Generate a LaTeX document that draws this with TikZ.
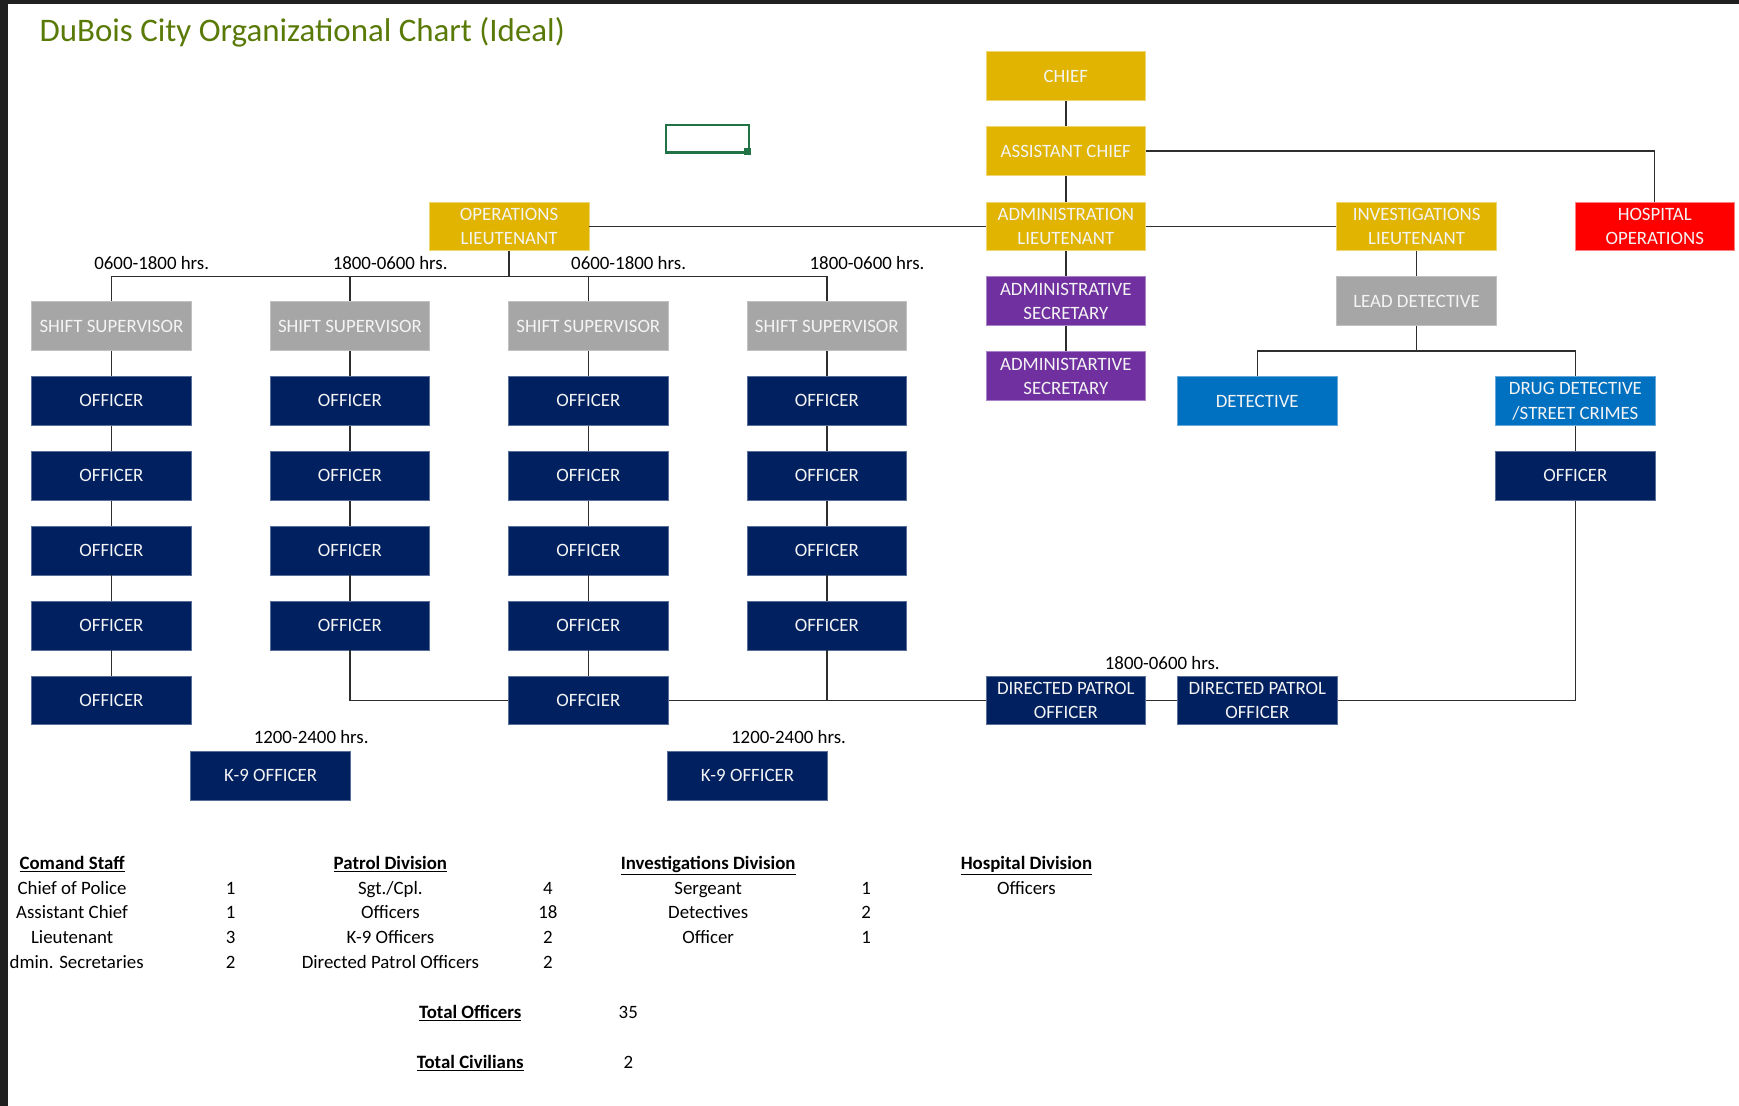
\documentclass[tikz,border=0pt]{standalone}
\usepackage{fontspec}
\setmainfont{Carlito}
\definecolor{gold}{HTML}{E0B400}
\definecolor{sgray}{HTML}{A6A6A6}
\definecolor{navy}{HTML}{002060}
\definecolor{purp}{HTML}{7030A0}
\definecolor{dblue}{HTML}{0070C0}
\definecolor{hred}{HTML}{FF0000}
\definecolor{boxtext}{HTML}{F4F4F4}
\definecolor{linec}{HTML}{2E2E2E}
\definecolor{titlec}{HTML}{5A7A08}
\definecolor{xlgreen}{HTML}{217346}
\definecolor{framec}{HTML}{202020}
\begin{document}
\begin{tikzpicture}[x=1pt,y=-1pt,
  box/.style={rectangle, minimum width=144pt, minimum height=44pt, inner sep=0pt,
    align=center, text=boxtext, line width=0.6pt, font=\fontsize{17}{22}\selectfont},
  gbox/.style={box, fill=gold, draw=gold!55!white},
  sbox/.style={box, fill=sgray, draw=sgray!70!white},
  nbox/.style={box, fill=navy, draw=navy!65!white},
  pbox/.style={box, fill=purp, draw=purp!60!white},
  bbox/.style={box, fill=dblue, draw=dblue!60!white},
  rbox/.style={box, fill=hred, draw=hred!50!white},
  conn/.style={draw=linec, line width=1.3pt},
  hrs/.style={anchor=base, inner sep=0pt, text=black, font=\fontsize{17}{20}\selectfont},
  tab/.style={anchor=base, inner sep=0pt, text=black, font=\fontsize{17}{20}\selectfont},
  head/.style={anchor=base, inner sep=0pt, text=black, font=\fontsize{17}{20}\selectfont\bfseries}]
\useasboundingbox (0,0) rectangle (1568,997);
\fill[white] (0,0) rectangle (1568,997);

% title
\node[anchor=base west, inner sep=0pt, text=titlec, font=\fontsize{29.7}{34}\selectfont] (title) at (35.5,37.6) {DuBois City Organizational Chart (Ideal)};

% excel selection cell
\draw[xlgreen, line width=2pt] (600.5,113) rectangle (675.5,137.5);
\fill[xlgreen] (671,133.5) rectangle (677.5,140);

% command
\node[gbox] (chief) at (961,68.7) {CHIEF};
\node[gbox] (asst) at (961,136.3) {ASSISTANT CHIEF};
\node[gbox] (ops) at (459,204) {OPERATIONS\\LIEUTENANT};
\node[gbox] (adm) at (961,204) {ADMINISTRATION\\LIEUTENANT};
\node[gbox] (inv) at (1277.3,204) {INVESTIGATIONS\\LIEUTENANT};
\node[rbox] (hosp) at (1492,204) {HOSPITAL\\OPERATIONS};
\node[pbox] (sec1) at (961,271.6) {ADMINISTRATIVE\\SECRETARY};
\node[pbox] (sec2) at (961,339.2) {ADMINISTARTIVE\\SECRETARY};
\node[sbox] (lead) at (1277.3,271.6) {LEAD DETECTIVE};
\node[bbox] (det) at (1133.6,361.7) {DETECTIVE};
\node[bbox] (drug) at (1420.5,361.7) {DRUG DETECTIVE\\/STREET CRIMES};
\node[nbox] (io) at (1420.5,429) {OFFICER};

% patrol columns
\foreach \c/\x in {1/100.5,2/315.5,3/530.5,4/745.5}{
  \node[sbox] (ss\c) at (\x,294) {SHIFT SUPERVISOR};
  \node[nbox] (o\c1) at (\x,361.5) {OFFICER};
  \node[nbox] (o\c2) at (\x,429) {OFFICER};
  \node[nbox] (o\c3) at (\x,496.5) {OFFICER};
  \node[nbox] (o\c4) at (\x,564) {OFFICER};
}
\node[nbox] (o15) at (100.5,631.5) {OFFICER};
\node[nbox] (o35) at (530.5,631.5) {OFFCIER};
\node[nbox] (dp1) at (961,631.5) {DIRECTED PATROL\\OFFICER};
\node[nbox] (dp2) at (1133.7,631.5) {DIRECTED PATROL\\OFFICER};
\node[nbox] (k9a) at (244,699.3) {K-9 OFFICER};
\node[nbox] (k9b) at (674,699.3) {K-9 OFFICER};

% hour labels
\node[hrs] (h1) at (136.8,242.8) {0600-1800 hrs.};
\node[hrs] (h2) at (351.8,242.8) {1800-0600 hrs.};
\node[hrs] (h3) at (566.8,242.8) {0600-1800 hrs.};
\node[hrs] (h4) at (781.8,242.8) {1800-0600 hrs.};
\node[hrs] (h5) at (1048,603.6) {1800-0600 hrs.};
\node[hrs] (h6) at (280.6,670.3) {1200-2400 hrs.};
\node[hrs] (h7) at (711,670.3) {1200-2400 hrs.};

% connectors
\draw[conn] (chief) -- (asst);
\draw[conn] (asst) -- (adm);
\draw[conn] (asst.east) -| (hosp.north);
\draw[conn] (ops.east) -- (adm.west);
\draw[conn] (adm.east) -- (inv.west);
\draw[conn] (adm) -- (sec1);
\draw[conn] (sec1) -- (sec2);
\draw[conn] (inv) -- (lead);
\coordinate (ldbus) at (1277.3,316.5);
\draw[conn] (lead.south) -- (ldbus);
\draw[conn] (ldbus) -| (det.north);
\draw[conn] (ldbus) -| (drug.north);
\draw[conn] (drug) -- (io);
\coordinate (opsbus) at (459,249.2);
\draw[conn] (ops.south) -- (opsbus);
\foreach \c in {1,2,3,4}{
  \draw[conn] (opsbus) -| (ss\c.north);
  \draw[conn] (ss\c) -- (o\c1);
  \draw[conn] (o\c1) -- (o\c2);
  \draw[conn] (o\c2) -- (o\c3);
  \draw[conn] (o\c3) -- (o\c4);
}
\draw[conn] (o14) -- (o15);
\draw[conn] (o34) -- (o35);
\draw[conn] (o24.south) |- (o35.west);
\draw[conn] (o35.east) -- (dp1.west);
\draw[conn] (o44.south) -- (o44.south |- o35.east);
\draw[conn] (dp1.east) -- (dp2.west);
\draw[conn] (dp2.east) -| (io.south);

% summary table
\node[head] (th1) at (65,784) {\underline{Comand Staff}};
\node[tab] (a1) at (65,806.3) {Chief of Police};
\node[tab] (a2) at (65,828.6) {Assistant Chief};
\node[tab] (a3) at (65,851) {Lieutenant};
\node[tab, anchor=base west] (a4) at (8.5,873.3) {dmin. Secretaries};
\node[tab] (an1) at (208,806.3) {1};
\node[tab] (an2) at (208,828.6) {1};
\node[tab] (an3) at (208,851) {3};
\node[tab] (an4) at (208,873.3) {2};

\node[head] (th2) at (352,784) {\underline{Patrol Division}};
\node[tab] (b1) at (352,806.3) {Sgt./Cpl.};
\node[tab] (b2) at (352,828.6) {Officers};
\node[tab] (b3) at (352,851) {K-9 Officers};
\node[tab] (b4) at (352,873.3) {Directed Patrol Officers};
\node[tab] (bn1) at (494,806.3) {4};
\node[tab] (bn2) at (494,828.6) {18};
\node[tab] (bn3) at (494,851) {2};
\node[tab] (bn4) at (494,873.3) {2};

\node[head] (th3) at (638.5,784) {\underline{Investigations Division}};
\node[tab] (c1) at (638.5,806.3) {Sergeant};
\node[tab] (c2) at (638.5,828.6) {Detectives};
\node[tab] (c3) at (638.5,851) {Officer};
\node[tab] (cn1) at (781,806.3) {1};
\node[tab] (cn2) at (781,828.6) {2};
\node[tab] (cn3) at (781,851) {1};

\node[head] (th4) at (925.5,784) {\underline{Hospital Division}};
\node[tab] (d1) at (925.5,806.3) {Officers};

\node[head] (tot1) at (424,918.5) {\underline{Total Officers}};
\node[tab] (tn1) at (566.5,918.5) {35};
\node[head] (tot2) at (424,963.5) {\underline{Total Civilians}};
\node[tab] (tn2) at (566.5,963.5) {2};

% window frame
\fill[framec] (0,0) rectangle (6.8,997);
\fill[framec] (0,0) rectangle (1568,3.6);
\end{tikzpicture}
\end{document}
